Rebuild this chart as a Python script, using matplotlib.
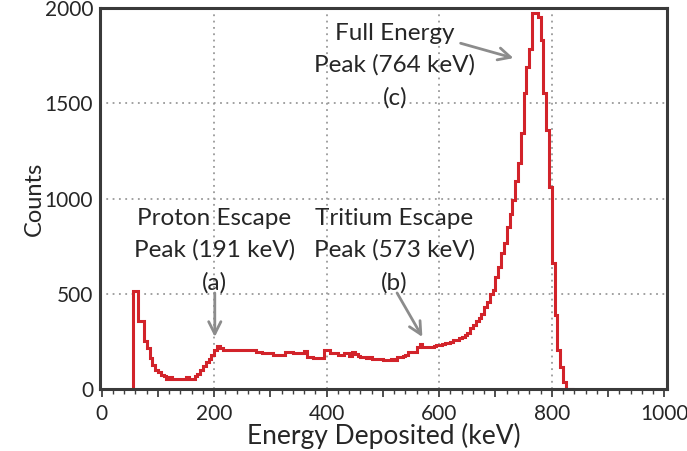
import numpy as np
import matplotlib
matplotlib.use("Agg")
import matplotlib.pyplot as plt
from matplotlib.ticker import MultipleLocator, FuncFormatter

# ---- data ----
bin_start = 55      # keV, left edge of the first bin
bin_width = 5       # keV
counts = [
    515, 515, 356, 356, 253, 214, 163, 129, 102, 90,        # 55-100
    77, 67, 55, 63, 55, 55, 55, 55, 55, 63,                  # 105-150
    55, 55, 67, 79, 100, 122, 141, 156, 180, 207,            # 155-200
    225, 214, 207, 207, 207, 207, 204, 207, 207, 204,        # 205-250
    207, 207, 204, 207, 197, 197, 189, 189, 189, 189,        # 255-300
    177, 177, 177, 177, 197, 197, 197, 189, 189, 189,        # 305-350
    189, 202, 171, 171, 162, 162, 162, 162, 206, 206,        # 355-400
    189, 189, 189, 177, 182, 188, 188, 175, 197, 187,        # 405-450
    175, 167, 167, 163, 167, 161, 161, 156, 161, 154,        # 455-500
    153, 153, 157, 153, 170, 170, 174, 182, 197, 197,        # 505-550
    197, 223, 236, 221, 221, 221, 221, 225, 232, 232,        # 555-600
    238, 244, 244, 249, 256, 256, 268, 272, 284, 294,        # 605-650
    320, 335, 356, 376, 396, 433, 458, 499, 522, 591,        # 655-700
    643, 713, 765, 853, 918, 993, 1092, 1186, 1343, 1553,    # 705-750
    1692, 1787, 1975, 1975, 1951, 1832, 1552, 1360, 1062, 662,  # 755-800
    389, 206, 118, 39, 0, 0, 0,                              # 805-835
]
edges = bin_start + bin_width * np.arange(len(counts) + 1)

x_ticks = [0, 200, 400, 600, 800, 1000]
y_ticks = [0, 500, 1000, 1500, 2000]

annotations = [
    # (lines, x_center, [y of each line], arrow start, arrow tip)
    (["Proton Escape", "Peak (191 keV)", "(a)"], 200, [898, 730, 557], (201, 505), (201, 274)),
    (["Tritium Escape", "Peak (573 keV)", "(b)"], 520, [898, 730, 557], (525, 505), (570, 274)),
    (["Full Energy", "Peak (764 keV)", "(c)"], 521, [1868, 1701, 1528], (638, 1815), (732, 1737)),
]

plt.rcParams['font.family'] = ['Lato', 'DejaVu Sans']
txt_color = '#262626'
fs_ann = 17.5
fs_tick = 15
fs_xlab = 19
fs_ylab = 17

fig = plt.figure(figsize=(6.87, 4.51), dpi=100)
ax = fig.add_axes([0.1456, 0.137, 0.8254, 0.8453])

ax.stairs(counts, edges, baseline=0, fill=False, color='#d2232a', lw=2.2)

ax.set_xlim(-3, 1005)
ax.set_ylim(0, 2000)

ax.xaxis.set_major_locator(MultipleLocator(100))
ax.xaxis.set_minor_locator(MultipleLocator(20))
ax.xaxis.set_major_formatter(FuncFormatter(lambda v, p: f"{int(round(v))}" if int(round(v)) % 200 == 0 else ""))
ax.set_yticks(y_ticks)

for v in x_ticks[1:-1]:
    ax.axvline(v, color='#9a9a9a', lw=1.3, ls=(0, (1, 2.5)), zorder=0)
for v in y_ticks[1:-1]:
    ax.axhline(v, color='#9a9a9a', lw=1.3, ls=(0, (1, 2.5)), zorder=0)

for s in ax.spines.values():
    s.set_color('#3a3a3a')
    s.set_linewidth(2.2)

ax.tick_params(axis='x', which='major', direction='out', length=6, width=1.3, color='#404040',
               labelsize=fs_tick, labelcolor=txt_color, pad=5)
ax.tick_params(axis='x', which='minor', direction='out', length=3.5, width=1.0, color='#404040')
ax.tick_params(axis='y', which='both', length=0, labelsize=fs_tick, labelcolor=txt_color, pad=5)

ax.set_xlabel("Energy Deposited (keV)", fontsize=fs_xlab, color=txt_color, labelpad=-1)
ax.set_ylabel("Counts", fontsize=fs_ylab, color=txt_color, labelpad=0)

for lines, xc, ys, start, tip in annotations:
    for line, yy in zip(lines, ys):
        ax.text(xc, yy, line, ha='center', va='center', fontsize=fs_ann, color=txt_color)
    ax.annotate('', xy=tip, xytext=start,
                arrowprops=dict(arrowstyle='->', color='#8c8c8c', lw=2.0, mutation_scale=22,
                                shrinkA=0, shrinkB=0))

fig.savefig('out.png', dpi=100)
